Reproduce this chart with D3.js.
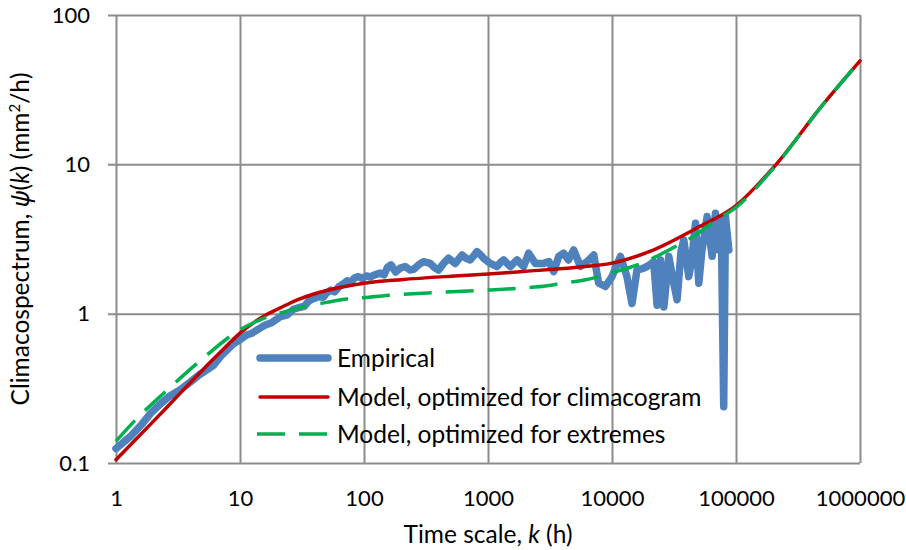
<!DOCTYPE html>
<html>
<head>
<meta charset="utf-8">
<script src="https://cdn.jsdelivr.net/npm/d3@7"></script>
<style>
  html, body { margin: 0; padding: 0; background: #fff; }
  svg { display: block; font-family: Lato, "Open Sans", sans-serif; }
</style>
</head>
<body>
<svg id="chart" width="906" height="550"></svg>
<script>
// Time scales (h) and climacospectrum values (mm²/h)
const xTickValues = [1, 10, 100, 1000, 10000, 100000, 1000000];
const yTickValues = [0.1, 1, 10, 100];
const xTickLabels = ["1", "10", "100", "1000", "10000", "100000", "1000000"];
const yTickLabels = ["0.1", "1", "10", "100"];

const seriesNames = ["Empirical", "Model, optimized for climacogram", "Model, optimized for extremes"];

const empiricalK = [1, 1.3, 1.6, 1.9, 2.3, 2.7, 3.3, 4, 4.7, 5.4, 6.1, 7, 8, 8.9, 10, 11.3, 12.5, 14.5, 16, 18,
  21, 24, 27, 30, 33, 36, 39, 43, 47, 50, 54, 58, 63, 68, 73, 78, 84, 90, 97, 105, 112, 122, 135, 145, 155,
  165, 180, 196, 215, 235, 251, 275, 302, 342, 372, 399, 440, 481, 545, 617, 665, 719, 770, 815, 870, 922,
  1044, 1183, 1260, 1337, 1514, 1714, 1937, 2128, 2410, 2813, 3100, 3388, 3717, 4074, 4450, 4910, 5560,
  6300, 7120, 7810, 8850, 10000, 11700, 13200, 14500, 15900, 17500, 19200, 21700, 23100, 24600, 26200,
  28700, 31000, 33500, 36000, 37900, 41600, 44000, 47100, 50100, 53000, 58500, 64200, 68300, 72700, 76000,
  79600, 82200, 87500];
const empiricalPsi = [0.125, 0.15, 0.18, 0.215, 0.25, 0.28, 0.31, 0.35, 0.39, 0.42, 0.45, 0.52, 0.58, 0.63,
  0.67, 0.72, 0.74, 0.80, 0.84, 0.87, 0.95, 0.98, 1.07, 1.10, 1.12, 1.22, 1.26, 1.30, 1.29, 1.38, 1.44, 1.40,
  1.52, 1.58, 1.66, 1.62, 1.74, 1.77, 1.72, 1.79, 1.76, 1.82, 1.87, 1.82, 2.05, 2.12, 1.90, 2.02, 2.07, 1.96,
  1.98, 2.12, 2.23, 2.17, 2.03, 1.96, 2.18, 2.35, 2.17, 2.47, 2.35, 2.29, 2.45, 2.60, 2.48, 2.35, 2.17, 2.07,
  2.20, 2.29, 2.07, 2.29, 2.07, 2.54, 2.17, 2.17, 2.23, 1.91, 2.42, 2.54, 2.29, 2.67, 2.07, 2.23, 2.47, 1.60,
  1.52, 1.77, 2.42, 1.77, 1.17, 1.96, 2.00, 2.07, 2.23, 1.14, 2.29, 1.11, 2.42, 1.70, 1.24, 2.60, 3.12, 1.77,
  2.30, 4.03, 1.60, 2.60, 4.47, 2.42, 4.70, 2.67, 4.30, 0.238, 4.47, 2.67];

const climacogramK = [1, 2, 3, 5, 7, 10, 13, 16, 20, 25, 30, 40, 50, 70, 100, 200, 500, 1000, 2000, 5000,
  10000, 20000, 50000, 100000, 200000, 500000, 1000000];
const climacogramPsi = [0.105, 0.19, 0.27, 0.42, 0.555, 0.74, 0.875, 0.975, 1.07, 1.17, 1.25, 1.36, 1.43, 1.52,
  1.60, 1.69, 1.78, 1.84, 1.92, 2.04, 2.18, 2.6, 3.8, 5.3, 9.5, 25, 49.3];

const extremesK = [1, 1.4, 2.5, 5, 10, 15, 25, 35, 50, 70, 100, 160, 300, 700, 1000, 2000, 3000, 4000, 6000,
  10000, 16000, 30000, 45000, 70000, 100000, 200000, 500000, 1000000];
const extremesPsi = [0.14, 0.19, 0.30, 0.50, 0.78, 0.92, 1.05, 1.13, 1.19, 1.25, 1.28, 1.33, 1.37, 1.42, 1.44,
  1.49, 1.54, 1.60, 1.68, 1.88, 2.12, 2.72, 3.28, 4.25, 5.15, 9.4, 25, 49.3];

const colors = { empirical: "#4f81bd", climacogram: "#c00000", extremes: "#00b050", grid: "#8c8c8c" };

const plot = { left: 116, right: 860, top: 15, bottom: 463 };
const labelFont = "24.5px";

const svg = d3.select("#chart");

const x = d3.scaleLog().domain([1, 1e6]).range([plot.left, plot.right]);
const y = d3.scaleLog().domain([0.1, 100]).range([plot.bottom, plot.top]);

// Horizontal gridlines with short outer ticks and labels
const yAxis = d3.axisLeft(y)
  .tickValues(yTickValues)
  .tickFormat((d, i) => yTickLabels[i])
  .tickSize(-(plot.right - plot.left + 8))
  .tickPadding(18);
const gy = svg.append("g")
  .attr("transform", `translate(${plot.left - 8},0)`)
  .call(yAxis);
gy.select(".domain").remove();
gy.selectAll(".tick line").attr("stroke", colors.grid).attr("stroke-width", 2);
gy.selectAll(".tick text").attr("fill", "#000").style("font-size", "22px")
  .style("font-family", "Lato, 'Open Sans', sans-serif");

// Vertical gridlines and labels
const xAxis = d3.axisBottom(x)
  .tickValues(xTickValues)
  .tickFormat((d, i) => xTickLabels[i])
  .tickSize(-(plot.bottom - plot.top))
  .tickPadding(27);
const gx = svg.append("g")
  .attr("transform", `translate(0,${plot.bottom})`)
  .call(xAxis);
gx.select(".domain").remove();
gx.selectAll(".tick line").attr("stroke", colors.grid).attr("stroke-width", 2);
gx.selectAll(".tick text").attr("fill", "#000").style("font-size", "22px")
  .style("font-family", "Lato, 'Open Sans', sans-serif");

// Series
const line = d3.line().x(d => x(d[0])).y(d => y(d[1]));
const smooth = d3.line().x(d => x(d[0])).y(d => y(d[1])).curve(d3.curveMonotoneX);

const empirical = empiricalK.map((k, i) => [k, empiricalPsi[i]]);
const climacogram = climacogramK.map((k, i) => [k, climacogramPsi[i]]);
const extremes = extremesK.map((k, i) => [k, extremesPsi[i]]);

svg.append("path").datum(empirical)
  .attr("d", line)
  .attr("fill", "none")
  .attr("stroke", colors.empirical)
  .attr("stroke-width", 7.5)
  .attr("stroke-linejoin", "round")
  .attr("stroke-linecap", "round");

svg.append("path").datum(climacogram)
  .attr("d", smooth)
  .attr("fill", "none")
  .attr("stroke", colors.climacogram)
  .attr("stroke-width", 3.5)
  .attr("stroke-linecap", "round");

svg.append("path").datum(extremes)
  .attr("d", smooth)
  .attr("fill", "none")
  .attr("stroke", colors.extremes)
  .attr("stroke-width", 3.5)
  .attr("stroke-dasharray", "28,14");

// Legend
const legend = svg.append("g").attr("transform", "translate(257,0)");
const legendRows = [
  { name: seriesNames[0], y: 358, color: colors.empirical, width: 7.5, dash: null, cap: "round" },
  { name: seriesNames[1], y: 397, color: colors.climacogram, width: 3.5, dash: null, cap: "round" },
  { name: seriesNames[2], y: 434, color: colors.extremes, width: 3.5, dash: "28,14", cap: "butt" }
];
legendRows.forEach(r => {
  legend.append("line")
    .attr("x1", r.cap === "round" ? 3 : 0).attr("x2", r.cap === "round" ? 71 : 74)
    .attr("y1", r.y).attr("y2", r.y)
    .attr("stroke", r.color).attr("stroke-width", r.width)
    .attr("stroke-linecap", r.cap)
    .attr("stroke-dasharray", r.dash);
  legend.append("text")
    .attr("x", 80).attr("y", r.y).attr("dy", "0.36em")
    .style("font-size", labelFont)
    .text(r.name);
});

// Axis titles
const xTitle = svg.append("text")
  .attr("x", (plot.left + plot.right) / 2).attr("y", 543)
  .attr("text-anchor", "middle")
  .style("font-size", labelFont);
xTitle.append("tspan").text("Time scale, ");
xTitle.append("tspan").style("font-style", "italic").text("k");
xTitle.append("tspan").text(" (h)");

const yTitle = svg.append("text")
  .attr("transform", `translate(29,${(plot.top + plot.bottom) / 2}) rotate(-90)`)
  .attr("text-anchor", "middle")
  .style("font-size", labelFont);
yTitle.append("tspan").text("Climacospectrum, ");
yTitle.append("tspan").style("font-style", "italic").style("font-family", "'Noto Sans', 'DejaVu Sans', sans-serif").text("ψ");
yTitle.append("tspan").text("(");
yTitle.append("tspan").style("font-style", "italic").text("k");
yTitle.append("tspan").text(") (mm");
yTitle.append("tspan").attr("baseline-shift", "super").style("font-size", "15px").text("2");
yTitle.append("tspan").text("/h)");
</script>
</body>
</html>
